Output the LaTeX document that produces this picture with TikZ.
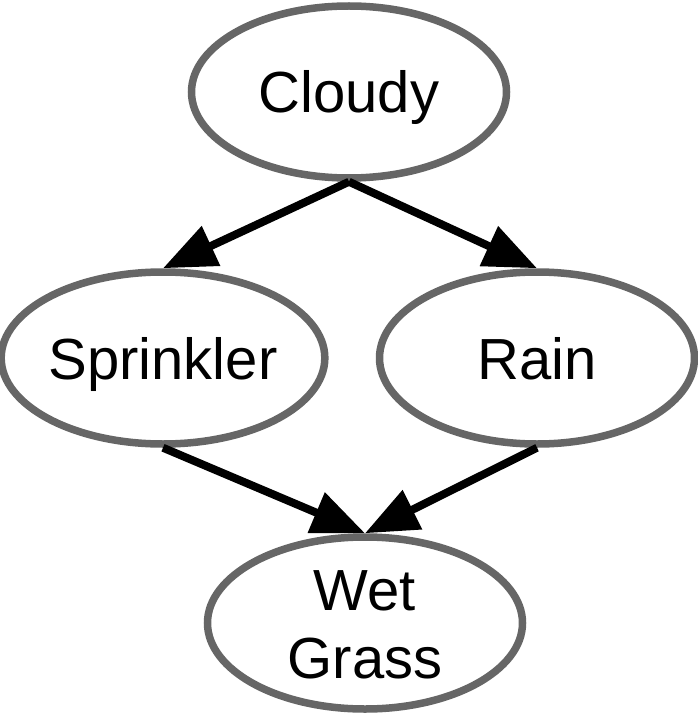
\documentclass[tikz,border=0pt]{standalone}
\usepackage{fontspec}
\setmainfont{Liberation Sans}
\usetikzlibrary{shapes.geometric,arrows.meta}
\definecolor{ringgray}{HTML}{666666}
\tikzset{
  var/.style={ellipse, draw=ringgray, line width=7.5pt, fill=white,
    minimum width=315pt, minimum height=172pt, inner sep=0pt,
    font=\fontsize{58}{68}\selectfont, text height=42pt, text depth=0pt},
  edge/.style={line width=8pt, draw=black, -{Triangle[length=53pt,width=42pt]}}
}
\begin{document}
\begin{tikzpicture}[x=1pt,y=-1pt]
\useasboundingbox (0,0) rectangle (697,714);
\node[var] (cloudy) at (349,92) {Cloudy};
\node[var] (sprinkler) at (163,358) {Sprinkler};
\node[var] (rain) at (537,358) {Rain};
\node[var, align=center, text height=110pt] (wet) at (365,623) {Wet\\Grass};
\draw[edge] (cloudy.south) -- (sprinkler.north);
\draw[edge] (cloudy.south) -- (rain.north);
\draw[edge] (sprinkler.south) -- (wet.north);
\draw[edge] (rain.south) -- (wet.north);
\end{tikzpicture}
\end{document}
